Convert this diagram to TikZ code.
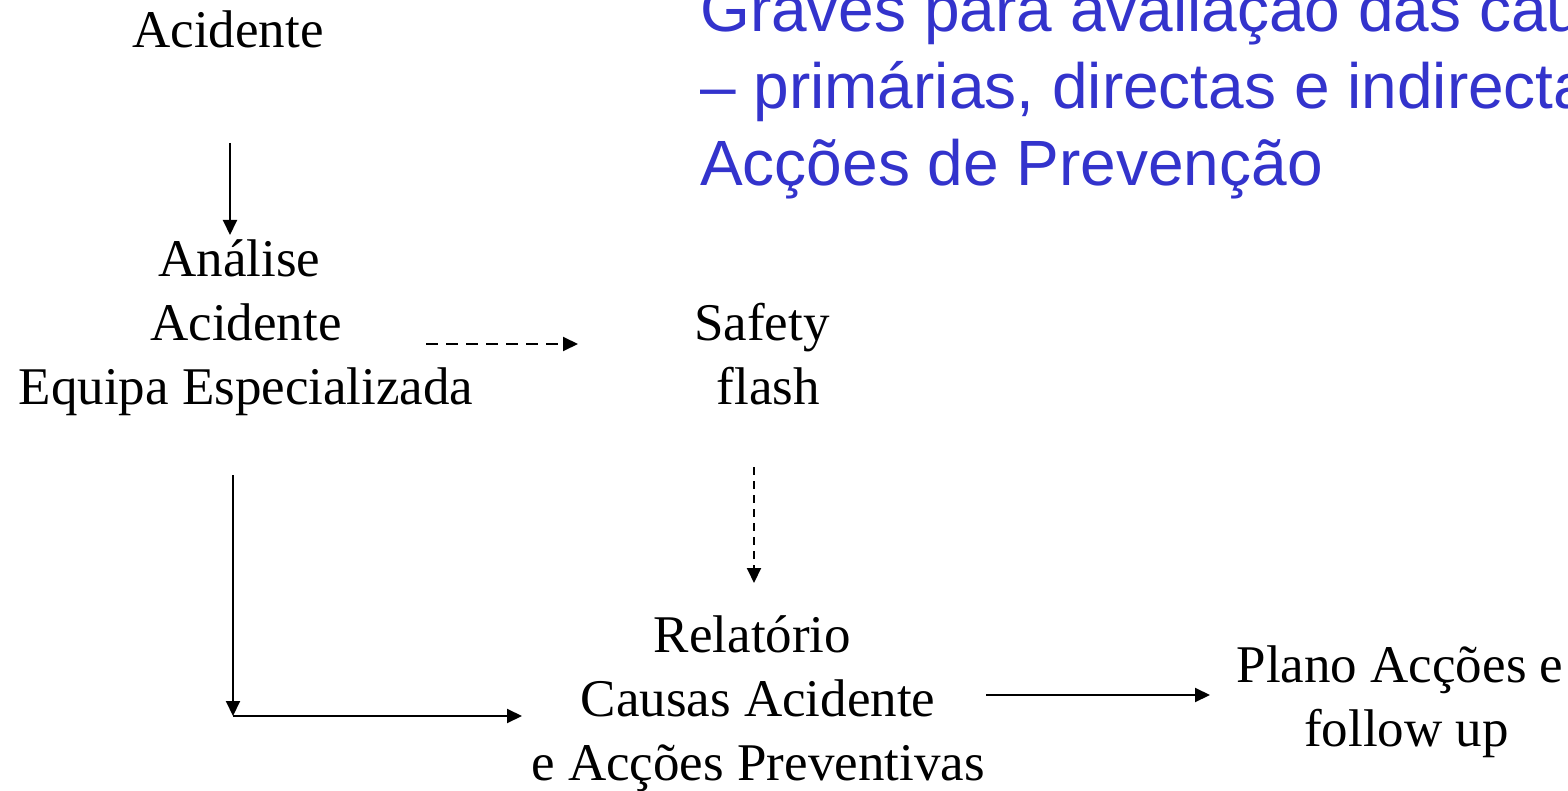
\documentclass[tikz,border=0pt]{standalone}
\usepackage{fontspec}
\setmainfont{Liberation Serif}
\newfontfamily\arialf{Liberation Sans}
\usetikzlibrary{arrows.meta}
\definecolor{titleblue}{RGB}{51,51,204}
\tikzset{
  lbl/.style={font=\fontsize{53}{64}\selectfont, align=center, inner sep=0pt, anchor=base},
  ttl/.style={font=\arialf\fontsize{64}{77}\selectfont, text=titleblue, align=left, inner sep=0pt, anchor=base west},
  conn/.style={line width=2pt, -{Triangle[length=15pt,width=14pt]}},
  dconn/.style={conn, dash pattern=on 12pt off 8pt},
  vdconn/.style={conn, dash pattern=on 8pt off 6pt},
}
\begin{document}
\begin{tikzpicture}[x=1pt,y=-1pt]
\useasboundingbox (0,0) rectangle (1568,791);
\clip (0,0) rectangle (1568,791);
\node[ttl] (title) at (700,186) {Graves para avaliação das causas\\– primárias, directas e indirectas\\Acções de Prevenção};
\node[lbl] (acid) at (228,48) {Acidente};
\node[lbl] (anal) at (246,404) {Análise\hspace*{13pt}\\Acidente\\Equipa Especializada};
\node[lbl] (flash) at (762,404) {Safety\\\hspace*{13pt}flash};
\node[lbl] (rel) at (758,780) {Relatório\hspace*{11pt}\\Causas Acidente\\e Acções Preventivas};
\node[lbl] (plano) at (1400,746) {Plano Acções e\\\hspace*{13pt}follow up};
\coordinate (a1s) at (230,143);
\coordinate (a1e) at (230,235);
\coordinate (d1s) at (426,344);
\coordinate (d1e) at (578,344);
\coordinate (d2s) at (754,467);
\coordinate (d2e) at (754,583);
\coordinate (ls) at (233,475);
\coordinate (lc) at (233,716);
\coordinate (le) at (522,716);
\coordinate (rs) at (986,695);
\coordinate (re) at (1210,695);
\draw[conn] (a1s) -- (a1e);
\draw[dconn] (d1s) -- (d1e);
\draw[vdconn] (d2s) -- (d2e);
\draw[conn] (ls) -- (lc);
\draw[conn] (lc) -- (le);
\draw[conn] (rs) -- (re);
\end{tikzpicture}
\end{document}
